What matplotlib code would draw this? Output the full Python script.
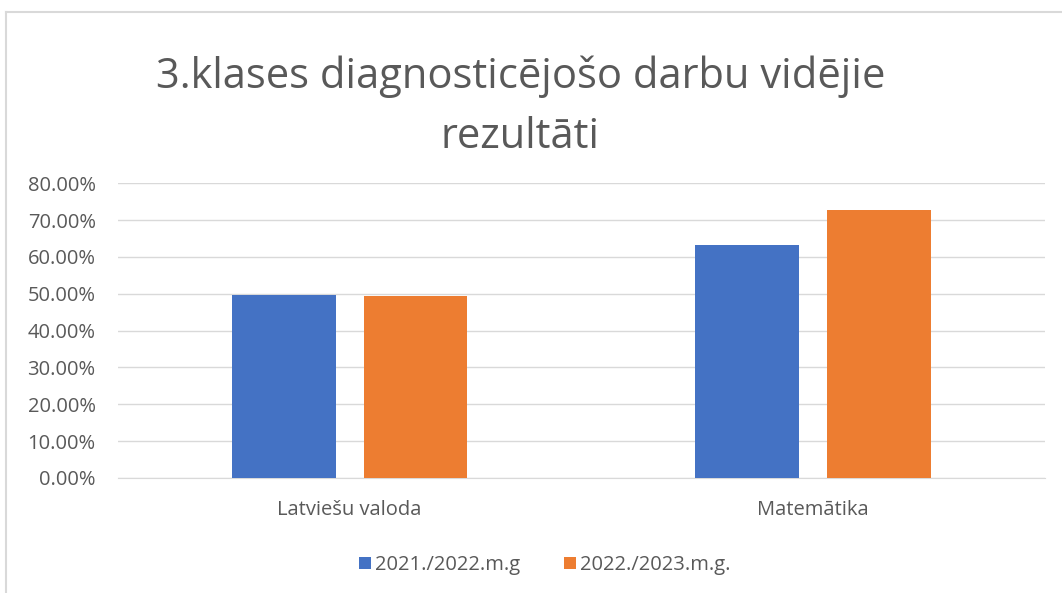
import numpy as np
import matplotlib.pyplot as plt
from matplotlib.lines import Line2D
from matplotlib.ticker import FuncFormatter

categories = ["Latviešu valoda", "Matemātika"]
series_names = ["2021./2022.m.g", "2022./2023.m.g."]
vals_2122 = [0.496, 0.633]
vals_2223 = [0.493, 0.728]
colors = ["#4472C4", "#ED7D31"]

plt.rcParams['font.family'] = ['Open Sans', 'DejaVu Sans']
txt = "#595959"

fig = plt.figure(figsize=(10.62, 5.93), dpi=100)
ax = fig.add_axes([0.111, 0.194, 0.873, 0.497])

x = np.arange(len(categories))
w = 0.224
gap = 0.06
ax.bar(x - (w + gap) / 2, vals_2122, w, color=colors[0], label=series_names[0], zorder=3)
ax.bar(x + (w + gap) / 2, vals_2223, w, color=colors[1], label=series_names[1], zorder=3)

ax.set_xlim(-0.5, 1.5)
ax.set_ylim(0, 0.8)
ax.set_yticks(np.arange(0, 0.81, 0.1))
ax.yaxis.set_major_formatter(FuncFormatter(lambda v, p: f"{v*100:.2f}%"))
ax.set_xticks(x)
ax.set_xticklabels(categories)
ax.tick_params(axis='both', length=0, labelsize=14.5, colors=txt)
ax.tick_params(axis='y', pad=16)
ax.tick_params(axis='x', pad=16)
ax.grid(axis='y', color='#D9D9D9', linewidth=1, zorder=0)
for s in ['top', 'right', 'left']:
    ax.spines[s].set_visible(False)
ax.spines['bottom'].set_color('#D9D9D9')

fig.text(0.49, 0.82, "3.klases diagnosticējošo darbu vidējie\nrezultāti",
         ha='center', va='center', fontsize=30, color=txt, linespacing=1.55)

leg = fig.legend(loc='center', bbox_to_anchor=(0.513, 0.047), ncol=2, frameon=False,
                 fontsize=14.5, handlelength=0.6, handleheight=0.6, handletextpad=0.2,
                 columnspacing=2.2)
for t in leg.get_texts():
    t.set_color(txt)

fig.add_artist(Line2D([0.006, 0.006], [0, 0.979], color='#D9D9D9', lw=1.5, transform=fig.transFigure))
fig.add_artist(Line2D([0.006, 1.0], [0.979, 0.979], color='#D9D9D9', lw=1.5, transform=fig.transFigure))

fig.savefig("out.png", dpi=100)
